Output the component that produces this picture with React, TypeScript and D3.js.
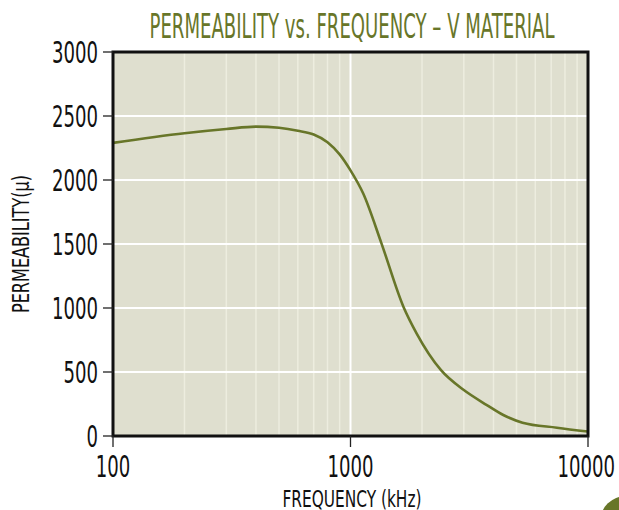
import { useEffect, useRef } from "react";
import * as d3 from "d3";

// frequency in kHz, permeability
const frequencies = [100, 200, 300, 400, 500, 600, 700, 800, 900, 1000, 1130, 1350, 1670, 1900, 2400, 3000, 3750, 4400, 5300, 7400, 10000];
const permeability = [2290, 2365, 2398, 2417, 2408, 2385, 2355, 2295, 2200, 2075, 1896, 1505, 1010, 800, 516, 359, 242, 164, 104, 65, 35];

const yTicks = [0, 500, 1000, 1500, 2000, 2500, 3000];
const xTicks = [100, 1000, 10000];
const xMinor = [200, 300, 400, 500, 600, 700, 800, 900, 2000, 3000, 4000, 5000, 6000, 7000, 8000, 9000];

const title = "PERMEABILITY vs. FREQUENCY – V MATERIAL";
const xLabel = "FREQUENCY (kHz)";
const yLabel = "PERMEABILITY(μ)";

type Point = { f: number; mu: number };

const FONT = "'Liberation Sans Narrow', 'DejaVu Sans Condensed', 'Roboto', sans-serif";
const OLIVE = "#687629";

export default function App() {
  const ref = useRef<SVGSVGElement | null>(null);

  useEffect(() => {
    if (!ref.current) return;
    const width = 619;
    const height = 510;
    const margin = { top: 52, right: 31, bottom: 74, left: 113 };
    const innerW = width - margin.left - margin.right;
    const innerH = height - margin.top - margin.bottom;

    const data: Point[] = frequencies.map((f, i) => ({ f, mu: permeability[i] }));

    const root = d3.select(ref.current);
    root.selectAll("*").remove();
    root.attr("width", width).attr("height", height);

    const x = d3.scaleLog().domain([100, 10000]).range([0, innerW]);
    const y = d3.scaleLinear().domain([0, 3000]).range([innerH, 0]);

    root
      .append("text")
      .attr("x", 352)
      .attr("y", 38)
      .attr("text-anchor", "middle")
      .attr("font-family", FONT)
      .attr("font-size", 33)
      .attr("fill", OLIVE)
      .attr("textLength", 405)
      .attr("lengthAdjust", "spacingAndGlyphs")
      .text(title);

    const g = root.append("g").attr("transform", `translate(${margin.left},${margin.top})`);

    g.append("rect").attr("width", innerW).attr("height", innerH).attr("fill", "#dfdfcf");

    // minor vertical grid
    g.selectAll(".minor")
      .data(xMinor)
      .join("line")
      .attr("x1", (d) => x(d))
      .attr("x2", (d) => x(d))
      .attr("y1", 0)
      .attr("y2", innerH)
      .attr("stroke", "#ededdf")
      .attr("stroke-width", 1.5);

    g.append("line")
      .attr("x1", x(1000))
      .attr("x2", x(1000))
      .attr("y1", 0)
      .attr("y2", innerH)
      .attr("stroke", "#ffffff")
      .attr("stroke-width", 2);

    g.selectAll(".hgrid")
      .data(yTicks.filter((d) => d > 0 && d < 3000))
      .join("line")
      .attr("x1", 0)
      .attr("x2", innerW)
      .attr("y1", (d) => y(d))
      .attr("y2", (d) => y(d))
      .attr("stroke", "#ffffff")
      .attr("stroke-width", 2);

    const line = d3
      .line<Point>()
      .x((d) => x(d.f))
      .y((d) => y(d.mu))
      .curve(d3.curveMonotoneX);

    g.append("path")
      .datum(data)
      .attr("fill", "none")
      .attr("stroke", OLIVE)
      .attr("stroke-width", 2.6)
      .attr("d", line);

    g.append("rect")
      .attr("width", innerW)
      .attr("height", innerH)
      .attr("fill", "none")
      .attr("stroke", "#111")
      .attr("stroke-width", 3);

    // y ticks
    g.selectAll(".ytick")
      .data(yTicks)
      .join("line")
      .attr("x1", -10)
      .attr("x2", 0)
      .attr("y1", (d) => y(d))
      .attr("y2", (d) => y(d))
      .attr("stroke", "#222")
      .attr("stroke-width", 1.3);

    g.selectAll(".ylab")
      .data(yTicks)
      .join("text")
      .attr("x", -15)
      .attr("y", (d) => y(d) + 11)
      .attr("text-anchor", "end")
      .attr("font-family", FONT)
      .attr("font-size", 31)
      .attr("fill", "#111")
      .attr("textLength", (d) => String(d).length * 11.5)
      .attr("lengthAdjust", "spacingAndGlyphs")
      .text((d) => String(d));

    // x ticks
    g.selectAll(".xtick")
      .data(xTicks)
      .join("line")
      .attr("x1", (d) => x(d))
      .attr("x2", (d) => x(d))
      .attr("y1", innerH)
      .attr("y2", innerH + 11)
      .attr("stroke", "#222")
      .attr("stroke-width", 1.3);

    g.selectAll(".xlab")
      .data(xTicks)
      .join("text")
      .attr("x", (d) => (d === 10000 ? Math.min(x(d), innerW + 27 - String(d).length * 5.75) : x(d)))
      .attr("y", innerH + 41)
      .attr("text-anchor", "middle")
      .attr("font-family", FONT)
      .attr("font-size", 31)
      .attr("fill", "#111")
      .attr("textLength", (d) => String(d).length * 11.5)
      .attr("lengthAdjust", "spacingAndGlyphs")
      .text((d) => String(d));

    root
      .append("text")
      .attr("x", 352)
      .attr("y", 507)
      .attr("text-anchor", "middle")
      .attr("font-family", FONT)
      .attr("font-size", 23)
      .attr("fill", "#111")
      .attr("textLength", 139)
      .attr("lengthAdjust", "spacingAndGlyphs")
      .text(xLabel);

    root
      .append("text")
      .attr("transform", "translate(29,244) rotate(-90)")
      .attr("text-anchor", "middle")
      .attr("font-family", FONT)
      .attr("font-size", 23)
      .attr("fill", "#111")
      .attr("textLength", 138)
      .attr("lengthAdjust", "spacingAndGlyphs")
      .text(yLabel);

    // decorative corner mark
    root.append("circle").attr("cx", 626).attr("cy", 522).attr("r", 26).attr("fill", OLIVE);
  }, []);

  return (
    <svg
      ref={ref}
      style={{ position: "absolute", left: 0, top: 0, display: "block", background: "#fff" }}
    ></svg>
  );
}
